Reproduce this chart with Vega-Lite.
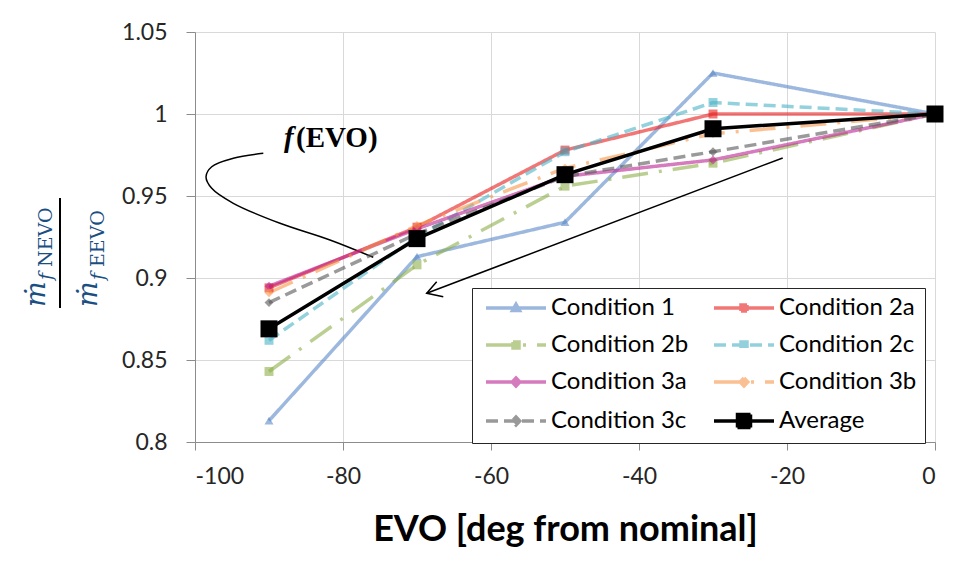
{
  "$schema": "https://vega.github.io/schema/vega-lite/v6.json",
  "width": 740,
  "height": 410,
  "autosize": {"type": "none"},
  "padding": {"left": 195, "top": 32, "right": 25, "bottom": 139},
  "background": "white",
  "config": {
    "view": {"stroke": null},
    "axis": {
      "grid": true,
      "gridColor": "#d9d9d9",
      "gridWidth": 1,
      "domainColor": "#8c8c8c",
      "tickColor": "#8c8c8c",
      "labelFont": "Lato",
      "labelFontSize": 23,
      "labelColor": "#262626",
      "titleFont": "Lato",
      "titleColor": "#000000"
    }
  },
  "datasets": {
    "ratios": [
      {"series": "Condition 1", "evo": -90, "ratio": 0.813},
      {"series": "Condition 1", "evo": -70, "ratio": 0.913},
      {"series": "Condition 1", "evo": -50, "ratio": 0.934},
      {"series": "Condition 1", "evo": -30, "ratio": 1.025},
      {"series": "Condition 1", "evo": 0, "ratio": 1.0},
      {"series": "Condition 2a", "evo": -90, "ratio": 0.894},
      {"series": "Condition 2a", "evo": -70, "ratio": 0.931},
      {"series": "Condition 2a", "evo": -50, "ratio": 0.978},
      {"series": "Condition 2a", "evo": -30, "ratio": 1.0},
      {"series": "Condition 2a", "evo": 0, "ratio": 1.0},
      {"series": "Condition 2b", "evo": -90, "ratio": 0.843},
      {"series": "Condition 2b", "evo": -70, "ratio": 0.908},
      {"series": "Condition 2b", "evo": -50, "ratio": 0.956},
      {"series": "Condition 2b", "evo": -30, "ratio": 0.970},
      {"series": "Condition 2b", "evo": 0, "ratio": 1.0},
      {"series": "Condition 2c", "evo": -90, "ratio": 0.862},
      {"series": "Condition 2c", "evo": -70, "ratio": 0.925},
      {"series": "Condition 2c", "evo": -50, "ratio": 0.977},
      {"series": "Condition 2c", "evo": -30, "ratio": 1.007},
      {"series": "Condition 2c", "evo": 0, "ratio": 1.0},
      {"series": "Condition 3a", "evo": -90, "ratio": 0.895},
      {"series": "Condition 3a", "evo": -70, "ratio": 0.930},
      {"series": "Condition 3a", "evo": -50, "ratio": 0.962},
      {"series": "Condition 3a", "evo": -30, "ratio": 0.972},
      {"series": "Condition 3a", "evo": 0, "ratio": 1.0},
      {"series": "Condition 3b", "evo": -90, "ratio": 0.891},
      {"series": "Condition 3b", "evo": -70, "ratio": 0.932},
      {"series": "Condition 3b", "evo": -50, "ratio": 0.967},
      {"series": "Condition 3b", "evo": -30, "ratio": 0.988},
      {"series": "Condition 3b", "evo": 0, "ratio": 1.0},
      {"series": "Condition 3c", "evo": -90, "ratio": 0.885},
      {"series": "Condition 3c", "evo": -70, "ratio": 0.927},
      {"series": "Condition 3c", "evo": -50, "ratio": 0.962},
      {"series": "Condition 3c", "evo": -30, "ratio": 0.977},
      {"series": "Condition 3c", "evo": 0, "ratio": 1.0},
      {"series": "Average", "evo": -90, "ratio": 0.869},
      {"series": "Average", "evo": -70, "ratio": 0.924},
      {"series": "Average", "evo": -50, "ratio": 0.963},
      {"series": "Average", "evo": -30, "ratio": 0.991},
      {"series": "Average", "evo": 0, "ratio": 1.0}
    ],
    "curve": [
      {"i": 1, "evo": -90.77, "ratio": 0.97604},
      {"i": 2, "evo": -94.82, "ratio": 0.97299},
      {"i": 3, "evo": -97.74, "ratio": 0.96787},
      {"i": 4, "evo": -98.51, "ratio": 0.96177},
      {"i": 5, "evo": -97.74, "ratio": 0.95470},
      {"i": 6, "evo": -94.82, "ratio": 0.94555},
      {"i": 7, "evo": -88.51, "ratio": 0.93335},
      {"i": 8, "evo": -81.76, "ratio": 0.92317},
      {"i": 9, "evo": -75.91, "ratio": 0.91262}
    ],
    "arrow": [
      {"part": "shaft", "i": 1, "evo": -20.58, "ratio": 0.9732},
      {"part": "shaft", "i": 2, "evo": -68.69, "ratio": 0.8907},
      {"part": "head", "i": 1, "evo": -67.34, "ratio": 0.8977},
      {"part": "head", "i": 2, "evo": -68.69, "ratio": 0.8907},
      {"part": "head", "i": 3, "evo": -66.45, "ratio": 0.8886}
    ],
    "one": [{}]
  },
  "layer": [
    {
      "data": {"name": "curve"},
      "mark": {"type": "line", "color": "black", "strokeWidth": 1.5, "interpolate": "catmull-rom"},
      "encoding": {
        "x": {"field": "evo", "type": "quantitative"},
        "y": {"field": "ratio", "type": "quantitative"},
        "order": {"field": "i"}
      }
    },
    {
      "data": {"name": "arrow"},
      "mark": {"type": "line", "color": "black", "strokeWidth": 1.5},
      "encoding": {
        "x": {"field": "evo", "type": "quantitative"},
        "y": {"field": "ratio", "type": "quantitative"},
        "detail": {"field": "part"},
        "order": {"field": "i"}
      }
    },
    {
      "data": {"name": "one"},
      "mark": {"type": "text", "text": "f", "font": "Liberation Serif", "fontStyle": "italic", "fontWeight": "bold", "fontSize": 29, "align": "left", "baseline": "alphabetic", "color": "black"},
      "encoding": {"x": {"datum": -87.97, "type": "quantitative"}, "y": {"datum": 0.98006, "type": "quantitative"}}
    },
    {
      "data": {"name": "one"},
      "mark": {"type": "text", "text": "(EVO)", "font": "Liberation Serif", "fontWeight": "bold", "fontSize": 29, "align": "left", "baseline": "alphabetic", "color": "black"},
      "encoding": {"x": {"datum": -86.35, "type": "quantitative"}, "y": {"datum": 0.98006, "type": "quantitative"}}
    },
    {
      "data": {"name": "one"},
      "mark": {"type": "text", "text": "ṁ", "angle": 270, "font": "DejaVu Serif", "fontStyle": "italic", "fontSize": 27, "align": "left", "baseline": "alphabetic", "color": "#1b4f82"},
      "encoding": {"x": {"datum": -120.27, "type": "quantitative"}, "y": {"datum": 0.88232, "type": "quantitative"}}
    },
    {
      "data": {"name": "one"},
      "mark": {"type": "text", "text": "f", "angle": 270, "dx": 27, "dy": 7, "font": "DejaVu Serif", "fontStyle": "italic", "fontSize": 19, "align": "left", "baseline": "alphabetic", "color": "#1b4f82"},
      "encoding": {"x": {"datum": -120.27, "type": "quantitative"}, "y": {"datum": 0.88232, "type": "quantitative"}}
    },
    {
      "data": {"name": "one"},
      "mark": {"type": "text", "text": "NEVO", "angle": 270, "dx": 40, "dy": 7, "font": "DejaVu Serif", "fontSize": 19, "align": "left", "baseline": "alphabetic", "color": "#1b4f82"},
      "encoding": {"x": {"datum": -120.27, "type": "quantitative"}, "y": {"datum": 0.88232, "type": "quantitative"}}
    },
    {
      "data": {"name": "one"},
      "mark": {"type": "rule", "color": "black", "strokeWidth": 2},
      "encoding": {"x": {"datum": -118.24, "type": "quantitative"}, "y": {"datum": 0.94878, "type": "quantitative"}, "y2": {"datum": 0.88171}}
    },
    {
      "data": {"name": "one"},
      "mark": {"type": "text", "text": "ṁ", "angle": 270, "font": "DejaVu Serif", "fontStyle": "italic", "fontSize": 27, "align": "left", "baseline": "alphabetic", "color": "#1b4f82"},
      "encoding": {"x": {"datum": -113.24, "type": "quantitative"}, "y": {"datum": 0.88232, "type": "quantitative"}}
    },
    {
      "data": {"name": "one"},
      "mark": {"type": "text", "text": "f", "angle": 270, "dx": 27, "dy": 7, "font": "DejaVu Serif", "fontStyle": "italic", "fontSize": 19, "align": "left", "baseline": "alphabetic", "color": "#1b4f82"},
      "encoding": {"x": {"datum": -113.24, "type": "quantitative"}, "y": {"datum": 0.88232, "type": "quantitative"}}
    },
    {
      "data": {"name": "one"},
      "mark": {"type": "text", "text": "EEVO", "angle": 270, "dx": 40, "dy": 7, "font": "DejaVu Serif", "fontSize": 19, "align": "left", "baseline": "alphabetic", "color": "#1b4f82"},
      "encoding": {"x": {"datum": -113.24, "type": "quantitative"}, "y": {"datum": 0.88232, "type": "quantitative"}}
    },
    {
      "data": {"name": "ratios"},
      "transform": [{"filter": "datum.series !== 'Average'"}],
      "mark": {"type": "line", "strokeWidth": 3.5, "opacity": 0.6},
      "encoding": {
        "x": {
          "field": "evo", "type": "quantitative",
          "scale": {"domain": [-100, 0], "nice": false, "zero": false},
          "axis": {"values": [-100, -80, -60, -40, -20, 0], "tickSize": 8, "labelPadding": 15, "labelExpr": "'' + datum.value", "title": "EVO [deg from nominal]", "titleFontSize": 36, "titleFontWeight": "bold", "titlePadding": 24}
        },
        "y": {
          "field": "ratio", "type": "quantitative",
          "scale": {"domain": [0.8, 1.05], "nice": false, "zero": false},
          "axis": {"values": [0.8, 0.85, 0.9, 0.95, 1, 1.05], "format": "~g", "tickSize": 9, "labelPadding": 19, "title": null}
        },
        "color": {
          "field": "series", "type": "nominal",
          "scale": {
            "domain": ["Condition 1", "Condition 2a", "Condition 2b", "Condition 2c", "Condition 3a", "Condition 3b", "Condition 3c", "Average"],
            "range": ["#5A88C8", "#E81C1C", "#8EAF4A", "#4BB2C6", "#BB2393", "#F7964A", "#575757", "#000000"]
          },
          "legend": {
            "title": null,
            "orient": "none",
            "legendX": 277,
            "legendY": 256,
            "direction": "horizontal",
            "columns": 2,
            "padding": 8,
            "strokeColor": "#262626",
            "fillColor": "white",
            "cornerRadius": 0,
            "labelFont": "Lato",
            "labelFontSize": 24,
            "labelColor": "#000000",
            "labelLimit": 300,
            "labelOffset": 48,
            "symbolSize": 100,
            "symbolStrokeWidth": 3.5,
            "symbolOffset": -1,
            "rowPadding": 13,
            "columnPadding": 18,
            "symbolType": {"expr": "datum.value === 'Condition 1' ? 'M-1,0H11 M5,-0.75L5.7,0.5L4.3,0.5Z' : datum.value === 'Average' ? 'M-1,0H11 M3.7,-1.3H6.3V1.3H3.7Z' : indexof(['Condition 3a', 'Condition 3b', 'Condition 3c'], datum.value) >= 0 ? 'M-1,0H11 M5,-0.8L5.75,0L5,0.8L4.25,0Z' : 'M-1,0H11 M4.4,-0.6H5.6V0.6H4.4Z'"},
            "symbolDash": {"expr": "scale('strokeDash', datum.value)"},
            "symbolOpacity": {"expr": "datum.value === 'Average' ? 1 : 0.6"},
            "symbolFillColor": {"expr": "scale('color', datum.value)"},
            "symbolStrokeColor": {"expr": "scale('color', datum.value)"}
          }
        },
        "strokeDash": {
          "field": "series", "type": "nominal",
          "scale": {
            "domain": ["Condition 1", "Condition 2a", "Condition 2b", "Condition 2c", "Condition 3a", "Condition 3b", "Condition 3c", "Average"],
            "range": [[1, 0], [1, 0], [26, 11, 3, 11], [12, 6], [1, 0], [26, 11, 3, 11], [12, 6], [1, 0]]
          },
          "legend": null
        }
      }
    },
    {
      "data": {"name": "ratios"},
      "transform": [{"filter": "datum.series === 'Condition 1'"}],
      "mark": {"type": "point", "filled": true, "shape": "triangle-up", "size": 80, "opacity": 0.6},
      "encoding": {
        "x": {"field": "evo", "type": "quantitative"},
        "y": {"field": "ratio", "type": "quantitative"},
        "color": {"field": "series", "type": "nominal", "legend": null}
      }
    },
    {
      "data": {"name": "ratios"},
      "transform": [{"filter": "indexof(['Condition 2a', 'Condition 2b', 'Condition 2c'], datum.series) >= 0"}],
      "mark": {"type": "point", "filled": true, "shape": "square", "size": 80, "opacity": 0.6},
      "encoding": {
        "x": {"field": "evo", "type": "quantitative"},
        "y": {"field": "ratio", "type": "quantitative"},
        "color": {"field": "series", "type": "nominal", "legend": null}
      }
    },
    {
      "data": {"name": "ratios"},
      "transform": [{"filter": "indexof(['Condition 3a', 'Condition 3b', 'Condition 3c'], datum.series) >= 0"}],
      "mark": {"type": "point", "filled": true, "shape": "diamond", "size": 80, "opacity": 0.6},
      "encoding": {
        "x": {"field": "evo", "type": "quantitative"},
        "y": {"field": "ratio", "type": "quantitative"},
        "color": {"field": "series", "type": "nominal", "legend": null}
      }
    },
    {
      "data": {"name": "ratios"},
      "transform": [{"filter": "datum.series === 'Average'"}],
      "mark": {"type": "line", "strokeWidth": 3.5},
      "encoding": {
        "x": {"field": "evo", "type": "quantitative"},
        "y": {"field": "ratio", "type": "quantitative"},
        "color": {"field": "series", "type": "nominal", "legend": null}
      }
    },
    {
      "data": {"name": "ratios"},
      "transform": [{"filter": "datum.series === 'Average'"}],
      "mark": {"type": "point", "filled": true, "shape": "square", "size": 289, "opacity": 1},
      "encoding": {
        "x": {"field": "evo", "type": "quantitative"},
        "y": {"field": "ratio", "type": "quantitative"},
        "color": {"field": "series", "type": "nominal", "legend": null}
      }
    }
  ]
}
